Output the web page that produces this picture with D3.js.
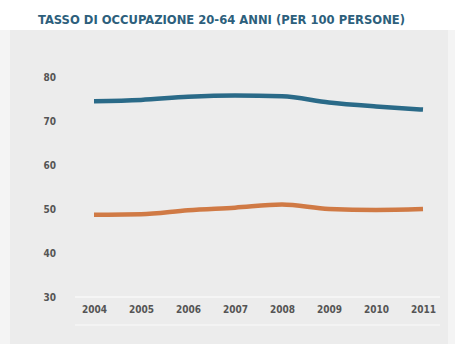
<!DOCTYPE html>
<html>
<head>
<meta charset="utf-8">
<script src="https://cdn.jsdelivr.net/npm/d3@7/dist/d3.min.js"></script>
<style>
  html, body { margin: 0; padding: 0; background: #ffffff; }
  svg { display: block; }
</style>
</head>
<body>
<svg id="chart" width="455" height="344"></svg>
<script>
// Employment rate, ages 20-64, per 100 people
const years = ["2004", "2005", "2006", "2007", "2008", "2009", "2010", "2011"];
const maschi = [74.5, 74.8, 75.5, 75.8, 75.6, 74.2, 73.3, 72.6];
const femmine = [48.7, 48.8, 49.7, 50.3, 51.0, 50.0, 49.8, 50.0];
const yTicks = [30, 40, 50, 60, 70, 80];
const titleText = "TASSO DI OCCUPAZIONE 20-64 ANNI (PER 100 PERSONE)";

const svg = d3.select("#chart");
const W = 455, H = 344;

// panel background
svg.append("rect").attr("x", 0).attr("y", 0).attr("width", W).attr("height", H).attr("fill", "#ffffff");
svg.append("rect").attr("x", 0).attr("y", 30).attr("width", W).attr("height", H - 30).attr("fill", "#f4f4f4");
svg.append("rect").attr("x", 10).attr("y", 30).attr("width", 438).attr("height", H - 30).attr("fill", "#ececec");

// title
svg.append("text")
  .attr("x", 38).attr("y", 24)
  .attr("textLength", 367).attr("lengthAdjust", "spacingAndGlyphs")
  .attr("font-family", "'Liberation Sans Narrow', 'DejaVu Sans Condensed', sans-serif")
  .attr("font-weight", "bold").attr("font-size", 12)
  .attr("fill", "#2d5f7c")
  .text(titleText);

const x = d3.scalePoint().domain(years).range([94, 423]);
const y = d3.scaleLinear().domain([30, 80]).range([297, 77]);

// baseline and faint bottom rule
svg.append("line").attr("x1", 75).attr("x2", 440).attr("y1", y(30)).attr("y2", y(30))
  .attr("stroke", "#f8f8f8").attr("stroke-width", 1.5);
svg.append("line").attr("x1", 75).attr("x2", 440).attr("y1", 325).attr("y2", 325)
  .attr("stroke", "#f6f6f6").attr("stroke-width", 1.5);

// y axis
const yAxis = svg.append("g").attr("transform", "translate(56,0)")
  .call(d3.axisLeft(y).tickValues(yTicks).tickSize(0).tickPadding(0));
yAxis.select(".domain").remove();
yAxis.selectAll("text")
  .attr("font-family", "'Liberation Sans Narrow', 'DejaVu Sans Condensed', sans-serif")
  .attr("font-weight", "bold").attr("font-size", 10).attr("fill", "#555");

// x axis
const xAxis = svg.append("g").attr("transform", "translate(0,306)")
  .call(d3.axisBottom(x).tickSize(0).tickPadding(0));
xAxis.select(".domain").remove();
xAxis.selectAll("text")
  .attr("font-family", "'Liberation Sans Narrow', 'DejaVu Sans Condensed', sans-serif")
  .attr("font-weight", "bold").attr("font-size", 10).attr("fill", "#555");

const line = d3.line()
  .x((d, i) => x(years[i]))
  .y(d => y(d))
  .curve(d3.curveMonotoneX);

svg.append("path").datum(maschi).attr("d", line)
  .attr("fill", "none").attr("stroke", "#2a6a88").attr("stroke-width", 4.5);
svg.append("path").datum(femmine).attr("d", line)
  .attr("fill", "none").attr("stroke", "#d07a45").attr("stroke-width", 4.5);
</script>
</body>
</html>
